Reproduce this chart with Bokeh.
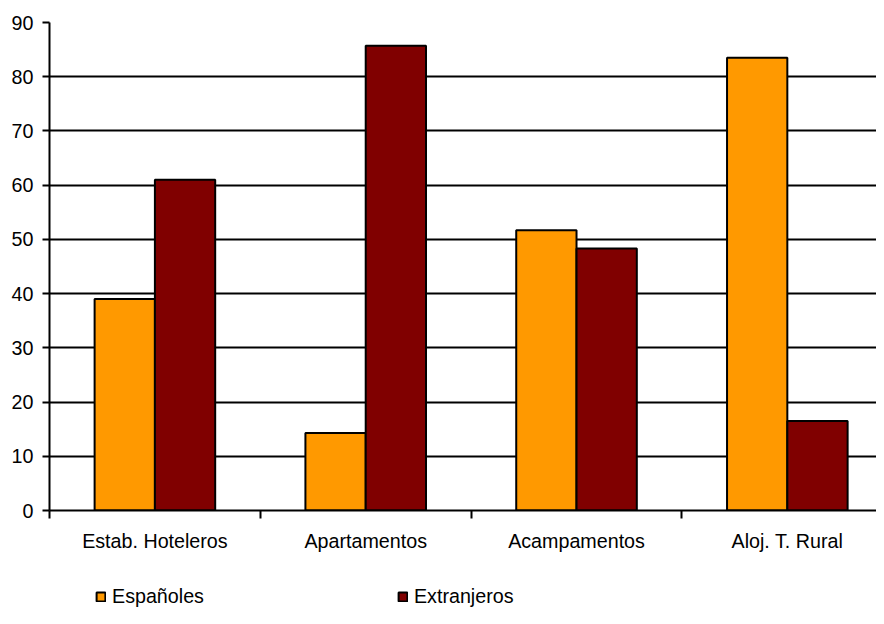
from bokeh.plotting import figure
from bokeh.layouts import column
from bokeh.models import Range1d, FixedTicker, Legend, LegendItem, BoxAnnotation
from bokeh.embed import file_html
from bokeh.resources import INLINE

categories = ["Estab. Hoteleros", "Apartamentos", "Acampamentos", "Aloj. T. Rural"]
espanoles = [39.0, 14.3, 51.7, 83.5]
extranjeros = [61.0, 85.7, 48.3, 16.5]
series_names = ["Españoles", "Extranjeros"]
series_colors = ["#FF9900", "#800000"]
y_ticks = [0, 10, 20, 30, 40, 50, 60, 70, 80, 90]

FONT = "Liberation Sans"
FS = "19.7px"
centers = [i + 0.5 for i in range(len(categories))]
bar_w = 0.286

p = figure(width=876, height=584, output_backend="svg", toolbar_location=None,
           x_range=Range1d(0, 3.923), y_range=Range1d(0, 90),
           min_border_left=49, min_border_right=0, min_border_top=22, min_border_bottom=74)
p.outline_line_color = None
p.background_fill_color = "white"

p.vbar(x=[c - bar_w / 2 for c in centers], top=espanoles, width=bar_w,
       fill_color=series_colors[0], line_color="black", line_width=2)
p.vbar(x=[c + bar_w / 2 for c in centers], top=extranjeros, width=bar_w,
       fill_color=series_colors[1], line_color="black", line_width=2)

# y axis
p.yaxis.ticker = FixedTicker(ticks=y_ticks)
p.yaxis.axis_line_width = 2
p.yaxis.axis_line_color = "black"
p.yaxis.major_tick_out = 7
p.yaxis.major_tick_in = 0
p.yaxis.major_tick_line_width = 2
p.yaxis.minor_tick_line_color = None
p.yaxis.major_label_standoff = 9
p.yaxis.major_label_text_font = FONT
p.yaxis.major_label_text_font_size = FS
p.yaxis.major_label_text_color = "black"

# x axis
p.xaxis.ticker = FixedTicker(ticks=centers, minor_ticks=[0, 1, 2, 3, 4])
p.xaxis.major_label_overrides = {c: name for c, name in zip(centers, categories)}
p.xaxis.axis_line_width = 2
p.xaxis.axis_line_color = "black"
p.xaxis.major_tick_line_color = None
p.xaxis.major_tick_out = 0
p.xaxis.major_tick_in = 0
p.xaxis.minor_tick_out = 8
p.xaxis.minor_tick_in = 0
p.xaxis.minor_tick_line_width = 2
p.xaxis.minor_tick_line_color = "black"
p.xaxis.major_label_standoff = 11
p.xaxis.major_label_text_font = FONT
p.xaxis.major_label_text_font_size = FS
p.xaxis.major_label_text_color = "black"

p.xgrid.grid_line_color = None
p.ygrid.ticker = FixedTicker(ticks=y_ticks)
p.ygrid.grid_line_color = "black"
p.ygrid.grid_line_width = 2

# legend strip below the chart: its bars lie outside the visible range and are
# covered by a white box, so only the legend itself shows
lg = figure(width=876, height=24, output_backend="svg", toolbar_location=None,
            x_range=Range1d(-3.923, 0), y_range=Range1d(0, 90),
            x_axis_location=None, y_axis_location=None,
            min_border=0, min_border_left=0, min_border_right=0,
            min_border_top=0, min_border_bottom=0)
lg.outline_line_color = None
lg.xgrid.visible = False
lg.ygrid.visible = False
l1 = lg.vbar(x=centers, top=espanoles, width=bar_w,
             fill_color=series_colors[0], line_color="black", line_width=2)
l2 = lg.vbar(x=centers, top=extranjeros, width=bar_w,
             fill_color=series_colors[1], line_color="black", line_width=2)
lg.add_layout(BoxAnnotation(fill_color="white", fill_alpha=1.0, line_color=None))
legend = Legend(items=[LegendItem(label=series_names[0], renderers=[l1]),
                       LegendItem(label=series_names[1], renderers=[l2])],
                orientation="horizontal", location=(46, 0),
                glyph_width=11, glyph_height=11, label_standoff=6, spacing=193,
                padding=0, margin=0, border_line_color=None, background_fill_alpha=0,
                label_text_font=FONT, label_text_font_size=FS, label_text_color="black")
lg.add_layout(legend, "center")

open("out.html", "w").write(file_html(column(p, lg, spacing=0), INLINE))
